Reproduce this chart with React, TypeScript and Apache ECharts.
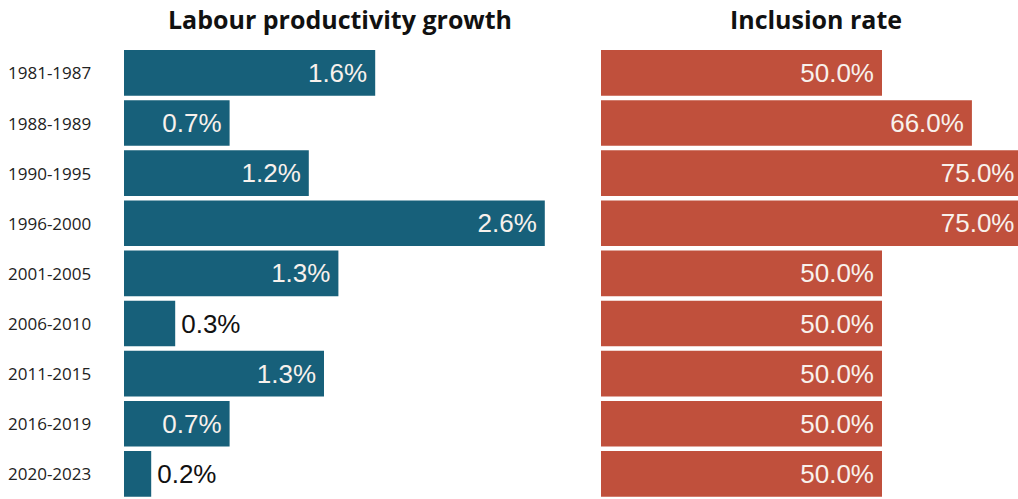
import React, { useEffect, useRef } from "react";
import * as echarts from "echarts";

const periods = [
  "1981-1987",
  "1988-1989",
  "1990-1995",
  "1996-2000",
  "2001-2005",
  "2006-2010",
  "2011-2015",
  "2016-2019",
  "2020-2023",
];
const productivityGrowth = [1.57, 0.66, 1.155, 2.63, 1.34, 0.32, 1.25, 0.66, 0.17];
const inclusionRate = [50, 66, 75, 75, 50, 50, 50, 50, 50];
const titles = ["Labour productivity growth", "Inclusion rate"];

const BLUE = "#17607a";
const RED = "#c0503c";

export default function App() {
  const ref = useRef<HTMLDivElement>(null);
  useEffect(() => {
    if (!ref.current) return;
    const chart = echarts.init(ref.current, undefined, { renderer: "svg" });
    const valueFont = "'Liberation Sans', Arial, sans-serif";
    chart.setOption({
      animation: false,
      backgroundColor: "#ffffff",
      title: [
        {
          text: titles[0],
          left: 335,
          top: 1,
          textAlign: "center",
          textStyle: { fontFamily: "'Open Sans'", fontWeight: "bold", fontSize: 25, color: "#111" },
        },
        {
          text: titles[1],
          left: 811,
          top: 1,
          textAlign: "center",
          textStyle: { fontFamily: "'Open Sans'", fontWeight: "bold", fontSize: 25, color: "#111" },
        },
      ],
      grid: [
        { left: 124, top: 47.8, width: 480, height: 453.6 },
        { left: 601, top: 47.8, right: 0, height: 453.6 },
      ],
      xAxis: [
        { type: "value", gridIndex: 0, min: 0, max: 3, show: false },
        { type: "value", gridIndex: 1, min: 0, max: 74.2, show: false },
      ],
      yAxis: [
        {
          type: "category",
          gridIndex: 0,
          data: periods,
          inverse: true,
          axisLine: { show: false },
          axisTick: { show: false },
          splitLine: { show: false },
          axisLabel: {
            align: "left",
            margin: 116,
            fontFamily: "'Open Sans'",
            fontSize: 17,
            color: "#222",
          },
        },
        {
          type: "category",
          gridIndex: 1,
          data: periods,
          inverse: true,
          show: false,
        },
      ],
      series: [
        {
          type: "bar",
          xAxisIndex: 0,
          yAxisIndex: 0,
          barCategoryGap: "9%",
          itemStyle: { color: BLUE },
          data: productivityGrowth.map((v) => ({
            value: v,
            label: {
              show: true,
              position: v < 0.5 ? "right" : "insideRight",
              distance: v < 0.5 ? 6 : 8,
              color: v < 0.5 ? "#111" : "#f8f1ec",
              fontFamily: valueFont,
              fontSize: 26,
              formatter: () => `${v.toFixed(1)}%`,
            },
          })),
        },
        {
          type: "bar",
          xAxisIndex: 1,
          yAxisIndex: 1,
          barCategoryGap: "9%",
          itemStyle: { color: RED },
          clip: false,
          data: inclusionRate.map((v) => ({
            value: v,
            label: {
              show: true,
              position: "insideRight",
              distance: 8,
              color: "#f8f1ec",
              fontFamily: valueFont,
              fontSize: 26,
              formatter: () => `${v.toFixed(1)}%`,
            },
          })),
        },
      ],
    });
    return () => chart.dispose();
  }, []);
  return (
    <div
      ref={ref}
      style={{ position: "fixed", left: 0, top: 0, width: 1018, height: 499, overflow: "hidden" }}
    />
  );
}
